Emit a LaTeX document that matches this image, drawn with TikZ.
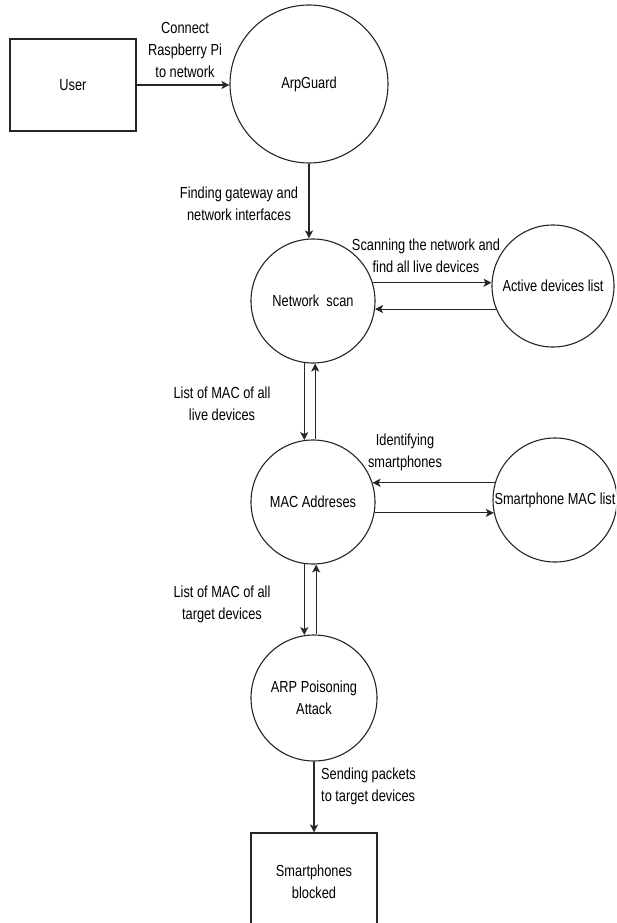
\documentclass[tikz,border=0pt]{standalone}
\usepackage{fontspec}
\setmainfont{Liberation Sans}[FakeStretch=0.8]
\usetikzlibrary{arrows.meta}
\tikzset{
  txt/.style={font=\fontsize{16pt}{22pt}\selectfont, text=black},
  proc/.style={txt, draw=black!85, line width=1.1pt, circle, inner sep=0pt, minimum size=#1},
  ent/.style={txt, draw=black!85, line width=1.1pt, rectangle, inner sep=0pt, minimum width=126pt, minimum height=#1},
  lbl/.style={txt, inner sep=0pt, align=center},
  arr/.style={draw=black!85, line width=1.1pt, -{Stealth[length=8pt,width=8pt,inset=2pt]}}
}
\begin{document}
\begin{tikzpicture}[x=1pt,y=-1pt]
\useasboundingbox (0,0) rectangle (616,923);
\clip (0,0) rectangle (616,923);
\fill[white] (0,0) rectangle (616,923);

% nodes
\node[ent=92pt] (user) at (73,85) {User};
\node[proc=158pt] (arp) at (309,84) {ArpGuard};
\node[proc=124pt] (scan) at (313,301) {Network\ \ scan};
\node[proc=122pt] (active) at (553,286) {Active devices list};
\node[proc=124pt] (mac) at (313,502) {MAC Addreses};
\node[proc=124pt] (smac) at (555,500) {Smartphone MAC list};
\node[proc=126pt, align=center] (atk) at (314,698) {ARP Poisoning\\Attack};
\node[ent=98pt, align=center] (blocked) at (314,882) {Smartphones\\blocked};

% labels
\node[lbl] (l1) at (185,50) {Connect\\Raspberry Pi\\to network};
\node[lbl] (l2) at (239,204) {Finding gateway and\\network interfaces};
\node[lbl] (l3) at (426,256) {Scanning the network and\\find all live devices};
\node[lbl] (l4) at (222,404) {List of MAC of all\\live devices};
\node[lbl] (l5) at (405,452) {Identifying\\smartphones};
\node[lbl] (l6) at (222,604) {List of MAC of all\\target devices};
\node[lbl, align=left, anchor=west] (l7) at (321,786) {Sending packets\\to target devices};

% connectors
\draw[arr] (user.east) -- (user.east -| arp.west);
\draw[arr] (arp.south) -- (arp.south |- scan.north);
\draw[arr] (scan.17) -- (active.177 |- scan.17);
\draw[arr] (active.202) -- (scan.-7 |- active.202);
\draw[arr] (scan.262) -- (scan.262 |- mac.98);
\draw[arr] (mac.88) -- (mac.88 |- scan.272);
\draw[arr] (smac.164) -- (mac.18 |- smac.164);
\draw[arr] (mac.-10) -- (smac.192 |- mac.-10);
\draw[arr] (mac.262) -- (mac.262 |- atk.98);
\draw[arr] (atk.88) -- (atk.88 |- mac.272);
\draw[arr] (atk.south) -- (blocked.north);
\end{tikzpicture}
\end{document}
